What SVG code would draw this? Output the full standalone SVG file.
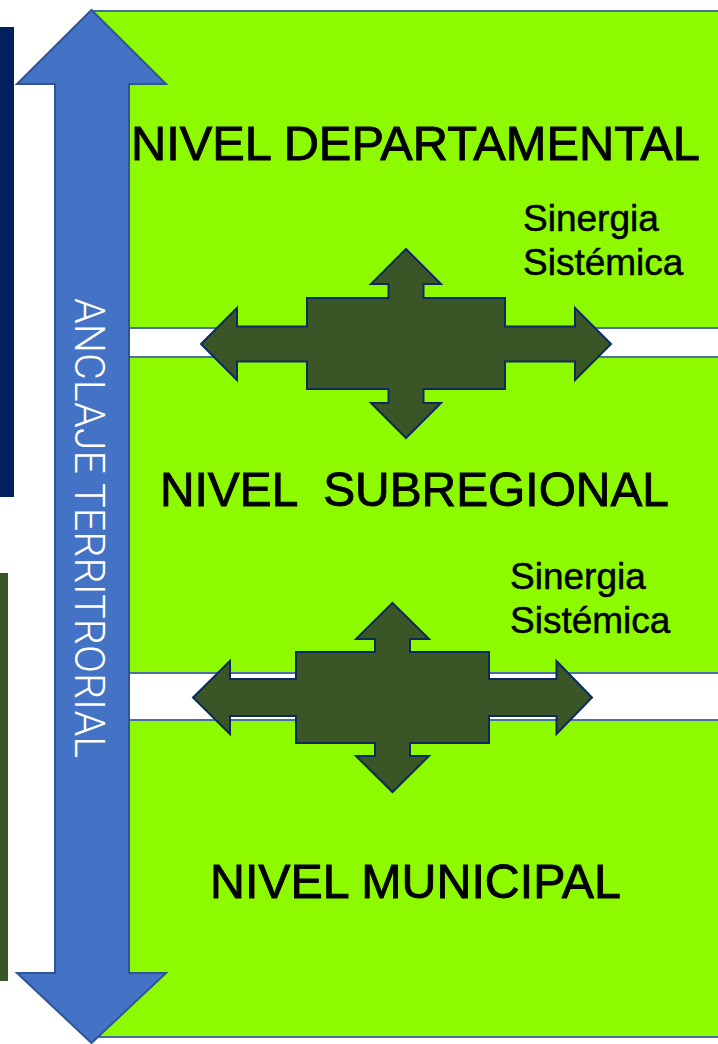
<svg xmlns="http://www.w3.org/2000/svg" width="718" height="1044" viewBox="0 0 718 1044">
<style>
.lvl{font-family:"Liberation Sans",Arial,sans-serif;font-size:49px;fill:#000;stroke:#000;stroke-width:0.9;white-space:pre}
.syn{font-family:"Liberation Sans",Arial,sans-serif;font-size:37px;fill:#000;stroke:#000;stroke-width:0.5}
.vert{font-family:Roboto,"Liberation Sans",sans-serif;font-weight:300;font-size:43px;fill:#fff}
.band{fill:#fff;stroke:#4a6fa8;stroke-width:2}
.cross{fill:#3a5526;stroke:#0c2a5e;stroke-width:2;stroke-linejoin:miter}
</style>
<rect width="718" height="1044" fill="#fff"/>
<g id="side-bars">
<rect x="0" y="27" width="14" height="470" fill="#002060"/>
<rect x="0" y="573" width="8" height="408" fill="#375623"/>
</g>
<g id="background">
<rect x="92" y="11" width="630" height="1026" fill="#8efa00" stroke="#41719c" stroke-width="2"/>
<rect class="band" x="92" y="328" width="630" height="29"/>
<rect class="band" x="92" y="673" width="630" height="47"/>
</g>
<g id="anclaje">
<polygon points="91.5,10 166,84 129,84 129,973 166,973 91.5,1043 17,973 55,973 55,84 17,84" fill="#4472c4" stroke="#2f5597" stroke-width="2"/>
<text class="vert" transform="translate(75,298) rotate(90)" textLength="460" lengthAdjust="spacingAndGlyphs">ANCLAJE TERRITRORIAL</text>
</g>
<g id="connectors">
<polygon class="cross" points="406,249 441,284 423.5,284 423.5,298 505,298 505,326.5 575,326.5 575,308 611,344 575,380 575,361.5 505,361.5 505,389 423.5,389 423.5,403 441,403 406,438 371,403 388.5,403 388.5,389 307,389 307,361.5 237,361.5 237,380 201,344 237,308 237,326.5 307,326.5 307,298 388.5,298 388.5,284 371,284"/>
<polygon class="cross" points="392.5,603 429,639 410,639 410,652 489,652 489,679 556.5,679 556.5,661 592,697.5 556.5,734 556.5,716 489,716 489,743 410,743 410,756 429,756 392.5,792 356,756 375,756 375,743 296,743 296,716 230,716 230,734 193,697.5 230,661 230,679 296,679 296,652 375,652 375,639 356,639"/>
</g>
<g id="nivel-departamental">
<text class="lvl" x="131" y="160" textLength="569" lengthAdjust="spacingAndGlyphs">NIVEL DEPARTAMENTAL</text>
</g>
<g id="sinergia-1">
<text class="syn" x="523" y="231">Sinergia</text>
<text class="syn" x="523" y="275">Sistémica</text>
</g>
<g id="nivel-subregional">
<text class="lvl" x="160" y="506" textLength="509" lengthAdjust="spacingAndGlyphs">NIVEL  SUBREGIONAL</text>
</g>
<g id="sinergia-2">
<text class="syn" x="510" y="589">Sinergia</text>
<text class="syn" x="510" y="633">Sistémica</text>
</g>
<g id="nivel-municipal">
<text class="lvl" x="210" y="898" textLength="411" lengthAdjust="spacingAndGlyphs">NIVEL MUNICIPAL</text>
</g>
</svg>
